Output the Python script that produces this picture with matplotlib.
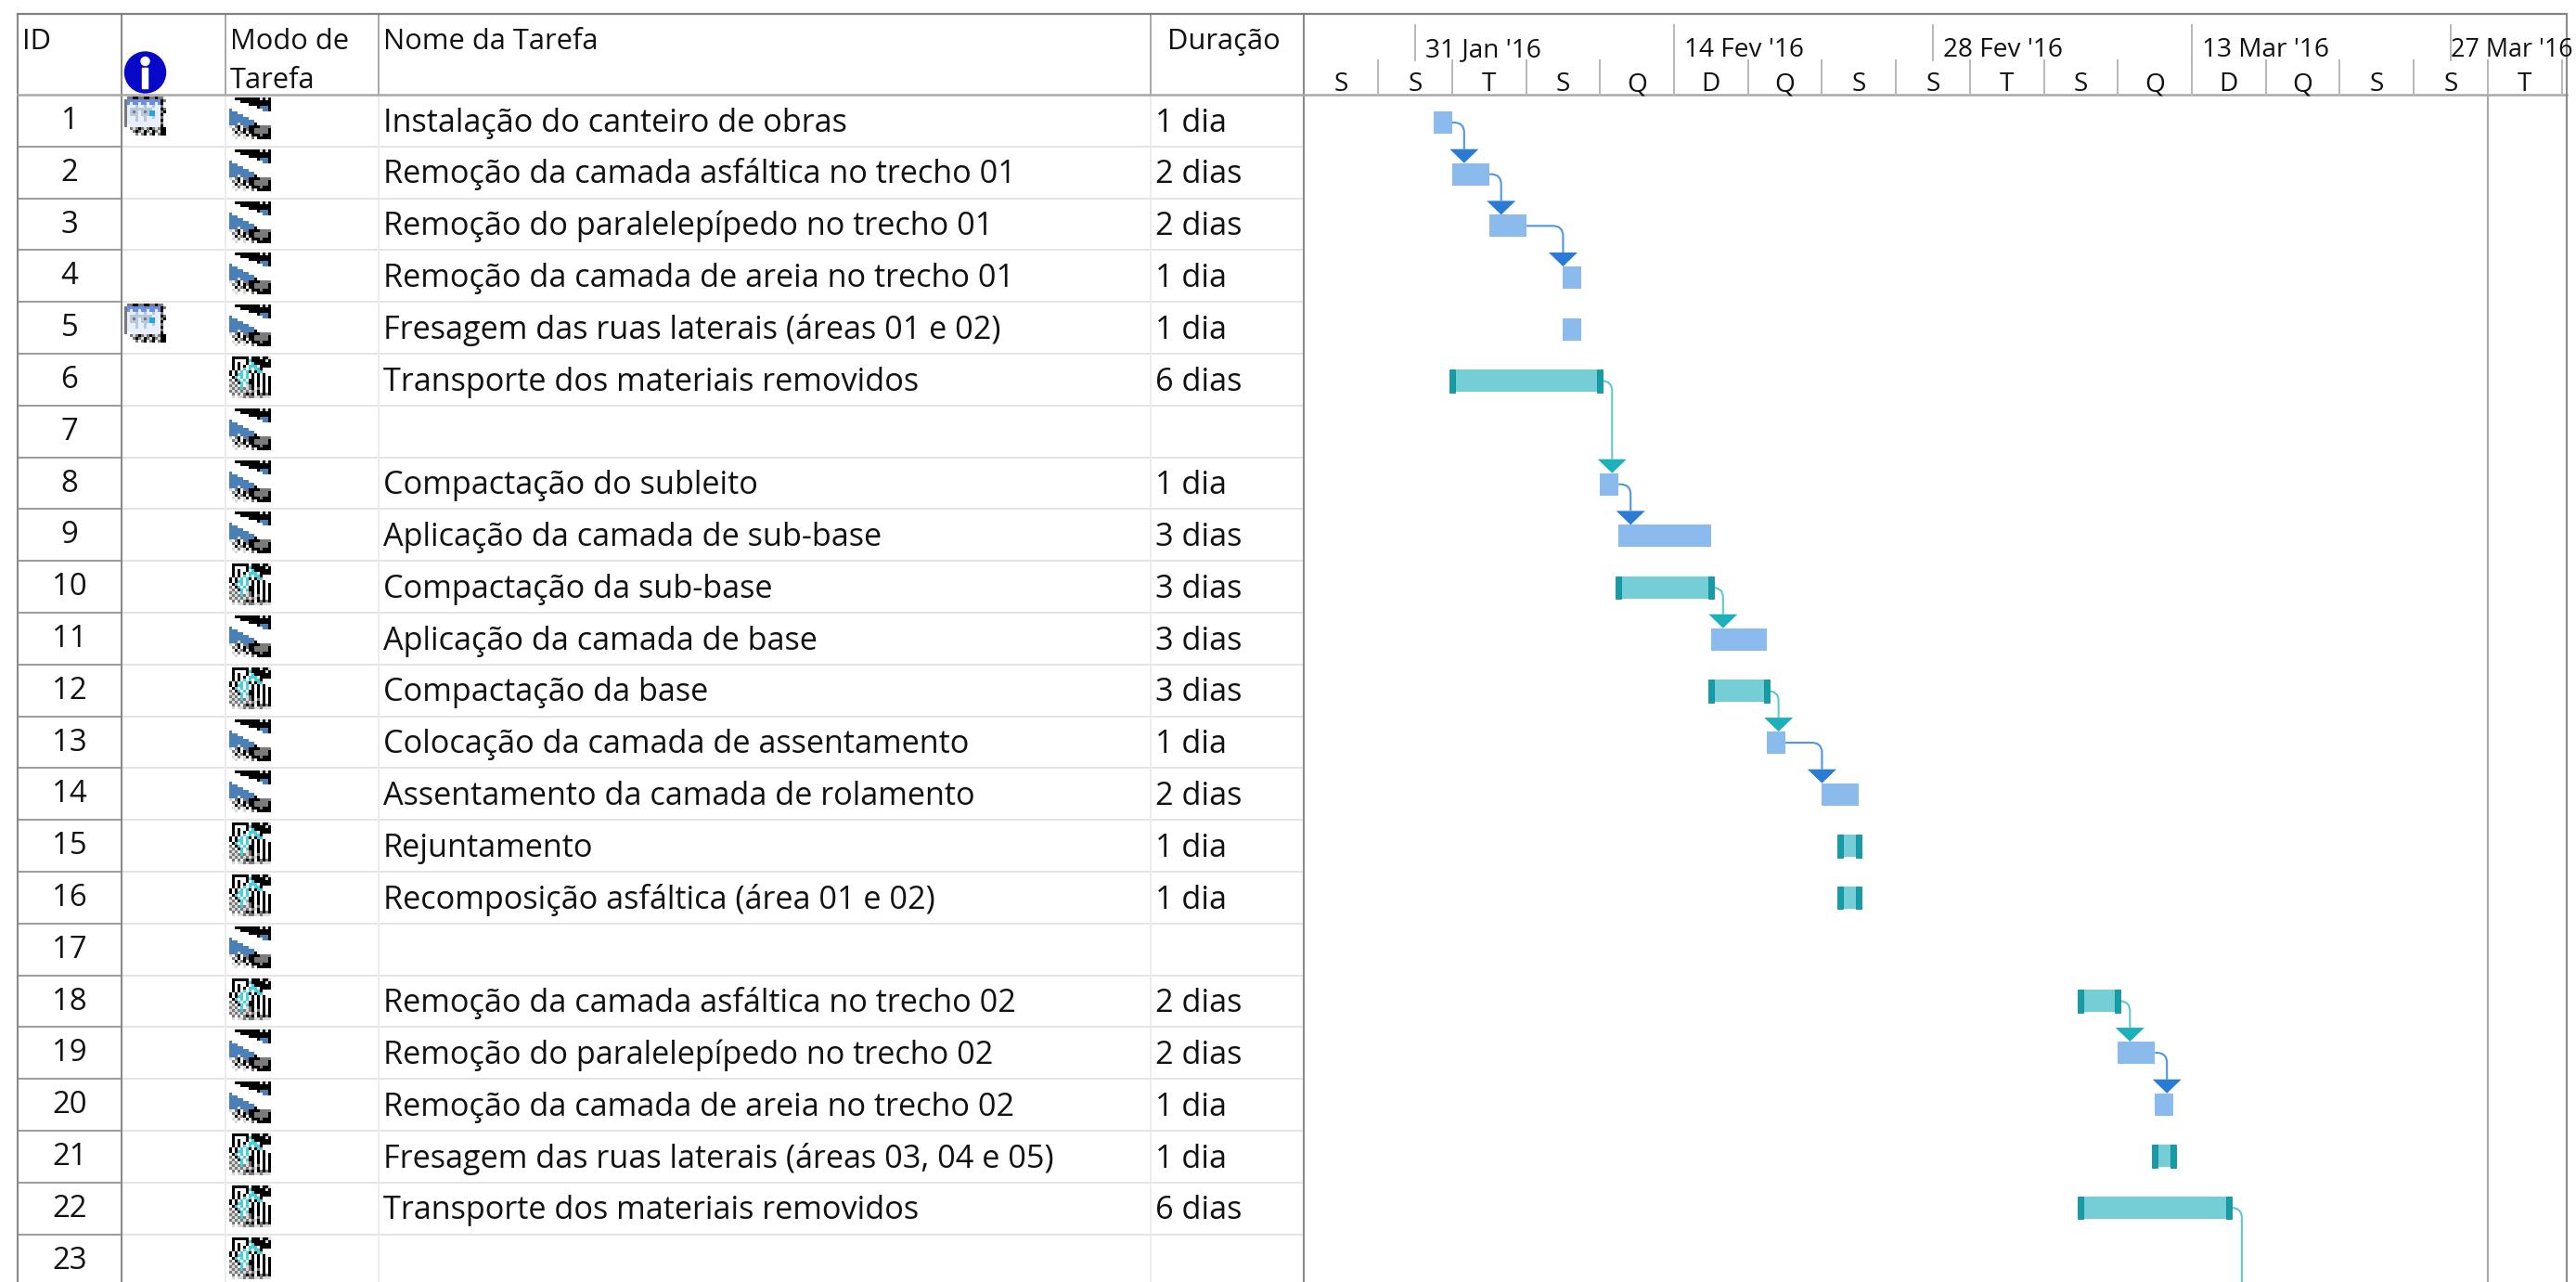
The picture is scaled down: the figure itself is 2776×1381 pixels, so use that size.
import numpy as np
import matplotlib
matplotlib.use("Agg")
import matplotlib.pyplot as plt
import matplotlib.dates as mdates
from matplotlib.path import Path
from matplotlib.patches import PathPatch, Polygon, Circle, Rectangle
from matplotlib.colors import to_rgb
from matplotlib.transforms import blended_transform_factory

plt.rcParams['font.family'] = ['Open Sans', 'DejaVu Sans']

# ---- data
ids = list(range(1, 24))
names = ["Instalação do canteiro de obras", "Remoção da camada asfáltica no trecho 01",
         "Remoção do paralelepípedo no trecho 01", "Remoção da camada de areia no trecho 01",
         "Fresagem das ruas laterais (áreas 01 e 02)", "Transporte dos materiais removidos", "",
         "Compactação do subleito", "Aplicação da camada de sub-base", "Compactação da sub-base",
         "Aplicação da camada de base", "Compactação da base", "Colocação da camada de assentamento",
         "Assentamento da camada de rolamento", "Rejuntamento", "Recomposição asfáltica (área 01 e 02)", "",
         "Remoção da camada asfáltica no trecho 02", "Remoção do paralelepípedo no trecho 02",
         "Remoção da camada de areia no trecho 02", "Fresagem das ruas laterais (áreas 03, 04 e 05)",
         "Transporte dos materiais removidos", ""]
durations = ["1 dia", "2 dias", "2 dias", "1 dia", "1 dia", "6 dias", "", "1 dia", "3 dias", "3 dias",
             "3 dias", "3 dias", "1 dia", "2 dias", "1 dia", "1 dia", "", "2 dias", "2 dias", "1 dia",
             "1 dia", "6 dias", ""]
# a = automatic, m = manual
modes = ["a", "a", "a", "a", "a", "m", "a", "a", "a", "m", "a", "m", "a", "a", "m", "m", "a",
         "m", "a", "a", "m", "m", "m"]
calendar_rows = [1, 5]

starts = ["2016-02-01", "2016-02-02", "2016-02-04", "2016-02-08", "2016-02-08", "2016-02-02", None,
          "2016-02-10", "2016-02-11", "2016-02-11", "2016-02-16", "2016-02-16", "2016-02-19",
          "2016-02-22", "2016-02-23", "2016-02-23", None, "2016-03-07", "2016-03-09", "2016-03-11",
          "2016-03-11", "2016-03-07", None]
ends = ["2016-02-02", "2016-02-04", "2016-02-06", "2016-02-09", "2016-02-09", "2016-02-10", None,
        "2016-02-11", "2016-02-16", "2016-02-16", "2016-02-19", "2016-02-19", "2016-02-20",
        "2016-02-24", "2016-02-24", "2016-02-24", None, "2016-03-09", "2016-03-11", "2016-03-12",
        "2016-03-12", "2016-03-15", None]
links = [(1, 2), (2, 3), (3, 4), (6, 8), (8, 9), (10, 11), (12, 13), (13, 14), (18, 19), (19, 20)]
open_link_row = 22

major_dates = ["2016-01-31", "2016-02-14", "2016-02-28", "2016-03-13", "2016-03-27"]
major_labels = ["31 Jan '16", "14 Fev '16", "28 Fev '16", "13 Mar '16", "27 Mar '16"]
minor_dates = ["2016-01-25", "2016-01-29", "2016-02-02", "2016-02-06", "2016-02-10", "2016-02-14",
               "2016-02-18", "2016-02-22", "2016-02-26", "2016-03-01", "2016-03-05", "2016-03-09",
               "2016-03-13", "2016-03-17", "2016-03-21", "2016-03-25", "2016-03-29", "2016-04-02"]
minor_labels = list("SSTSQDQSSTSQDQSST")
status_date = "2016-03-29"

# pixel icons
icon_auto = ["WWKKKKKKKKKLKLK", "WWWWKKKKKKKKKKK", "WWWWWWWKKKKKKKK", "WWWWWWWWWWKBBBK",
             "BWWWWWWWWWWWBBK", "BBBWWWWWWWWWWWW", "BBBBBWWWWWWWWWW", "BBBBBBBWWWWWWWW",
             "BBBBBBBBBWWWWWW", "BBBLBBBBBKWWWWW", "LWGKWGBKKKKGGGG", "WGLKWKGKKGGGGGK",
             "WWKLGKWKKGGGGGK", "WLWGWLKWKKKGKKK", "WWLWWLWWGWKKKKK"]
icon_manual = ["WKKKKKKWKKKLKKL", "WKWWWWKTKKKKKLK", "WKWKWWKWTKKKKKK", "WKWKWKWTTTWKKKK",
               "WKWKWTWTWTTKWWW", "KWKWTWTKWKTTWWW", "KWKTTWTWKWKWKWW", "WKTWTWTWKWKWKWK",
               "GWKTWTWKKWKWKWK", "LGWKTWTKKWKWKWK", "GLGWTWLGKWKWKWK", "LGLGTGLGKWGWKWK",
               "GLGLGLGLGLKWKWK", "WGWGWGKGKWKGKGK", "WLWLLGLGGLLGLLL"]
icon_cal = ["WGGKKGGKKGGKGGW", "ABBBBBBBBBBBBKG", "ABCBBCBBCBBCBKW", "ACCCDCCDCCDCCGW",
            "ACDDDDDDDDCCCKG", "ACDGDCDGDTTCCGK", "ACDDDCDDDTTCCKW", "ACCCDCCDCCDCCGW",
            "ACCCDCCDCCCCCKW", "ACCCCCCCCCCCCGW", "AWCCCCCCCCCCCKW", "WWGLGKGLGKGLGKK",
            "WWWGKGLKGLKGLKK", "WWWWGWGKWGKWGKK", "WWWWWWWWWWWWWWW"]
icon_colors = {"W": "#ffffff", "K": "#000000", "L": "#d8d8d8", "G": "#7a7a7a", "B": "#4a7fb8",
               "T": "#45d0dc", "A": "#7a7a7a", "C": "#e8eefc", "D": "#b8c8dc"}
cal_colors = dict(icon_colors, B="#6a8fe6", T="#20a8e0")

W, H = 2776, 1381
BLUE, BLUE_HEAD, BLUE_LINK = "#8bbbed", "#2a7bd6", "#4f97e2"
TEAL, TEAL_CAP, TEAL_HEAD, TEAL_LINK = "#75cdd5", "#169ca6", "#1cb0bd", "#5cc8d2"
DARK, MID, LIGHT = "#8a8a8a", "#a8a8a8", "#e4e4e4"
TXT = "#111111"
FS = 24.7
HEAD_FS = 22.2
SCALE_FS = 20.2

fig = plt.figure(figsize=(W / 100, H / 100), dpi=100)
ax = fig.add_axes([0, 0, 1, 1])
ax.set_xlim(0, W)
ax.set_ylim(H, 0)
ax.axis("off")


def icon(grid, x, y, colors):
    img = np.array([[to_rgb(colors[c]) for c in line] for line in grid])
    ax.imshow(img, extent=(x, x + 45, y + 45, y), interpolation="nearest", aspect="auto", zorder=3)


# ---- table
top, head, row_h = 15, 102, 55.8
col_x = [19, 131, 243, 408, 1240, 1405]
row_tops = [head + row_h * i for i in range(len(ids) + 1)]

for i in range(1, len(ids) + 1):
    y = row_tops[i]
    ax.plot([131, 1405], [y, y], color=LIGHT, lw=1.4, zorder=1)
    ax.plot([19, 131], [y, y], color=DARK, lw=1.2, zorder=2)
for x in col_x[2:5]:
    ax.plot([x, x], [head, H], color="#ececec", lw=1.4, zorder=1)
    ax.plot([x, x], [top, head], color=MID, lw=1.4, zorder=2)
for x in (col_x[0], col_x[1], col_x[5]):
    ax.plot([x, x], [top, H], color=DARK, lw=1.5, zorder=2)
ax.plot([19, 2766], [top, top], color="#808080", lw=1.6, zorder=2)
ax.plot([19, 2766], [head, head], color=MID, lw=1.8, zorder=2)
ax.plot([2766, 2766], [top, H], color=DARK, lw=1.5, zorder=2)

ax.text(24, 53, "ID", fontsize=HEAD_FS, color=TXT)
ax.text(248, 53, "Modo de", fontsize=HEAD_FS, color=TXT)
ax.text(248, 95, "Tarefa", fontsize=HEAD_FS, color=TXT)
ax.text(413, 53, "Nome da Tarefa", fontsize=HEAD_FS, color=TXT)
ax.text(1319, 53, "Duração", fontsize=HEAD_FS, color=TXT, ha="center")

ax.add_patch(Circle((156.5, 78), 22, color="#0808c8", zorder=3))
ax.add_patch(Rectangle((153.5, 73), 6, 22, color="white", zorder=4))
ax.add_patch(Circle((156.5, 66), 4.5, color="white", zorder=4))

for i, rid in enumerate(ids):
    rt = row_tops[i]
    ax.text(75, rt + 37, str(rid), fontsize=FS - 1, color=TXT, ha="center")
    ax.text(413, rt + 39.5, names[i], fontsize=FS, color=TXT)
    ax.text(1245, rt + 39.5, durations[i], fontsize=FS, color=TXT)
    icon(icon_auto if modes[i] == "a" else icon_manual, 247, rt + 3, icon_colors)
    if rid in calendar_rows:
        icon(icon_cal, 134, rt + 2, cal_colors)

ax.set_xlim(0, W)
ax.set_ylim(H, 0)

# ---- gantt pane: x in dates, y in rows
ax2 = fig.add_axes([1405 / W, 0, (2766 - 1405) / W, (H - 102) / H])
ref = mdates.datestr2num("2016-02-14")
px_day = 19.93
ax2.set_xlim(ref + (1405 - 1804) / px_day, ref + (2766 - 1804) / px_day)
row_px = 55.67
ax2.set_ylim(1 + (H - 132) / row_px, 1 + (102 - 132) / row_px)
ax2.axis("off")
ax2.patch.set_alpha(0)

bar_h = 24 / row_px
cap = 6 / px_day
s = [mdates.datestr2num(d) if d else None for d in starts]
e = [mdates.datestr2num(d) if d else None for d in ends]

for i, rid in enumerate(ids):
    if s[i] is None:
        continue
    if modes[i] == "a":
        ax2.barh(rid, e[i] - s[i], left=s[i], height=bar_h, color=BLUE, zorder=2)
    else:
        ax2.barh(rid, e[i] - s[i], left=s[i], height=bar_h, color=TEAL, zorder=2)
        for d in (s[i], e[i]):
            ax2.barh(rid, cap, left=d - cap / 2, height=bar_h * 1.03, color=TEAL_CAP,
                     edgecolor="#0f8f99", linewidth=0.6, zorder=3)


def link(x0, y0, x1, y1, color):
    rx, ry = 11 / px_day, 11 / row_px
    verts = [(x0, y0), (x1 - rx, y0), (x1, y0), (x1, y0 + ry), (x1, y1)]
    codes = [Path.MOVETO, Path.LINETO, Path.CURVE3, Path.CURVE3, Path.LINETO]
    ax2.add_patch(PathPatch(Path(verts, codes), fill=False, edgecolor=color, lw=1.5, zorder=1))


offset = 13 / px_day
head_w, head_h = 15.5 / px_day, 15 / row_px
for a, b in links:
    kind = modes[a - 1]
    x = max(e[a - 1] + offset, s[b - 1])
    tip = b - bar_h / 2
    link(e[a - 1] + (3 / px_day if kind == "m" else 0), a, x, tip - head_h, BLUE_LINK if kind == "a" else TEAL_LINK)
    ax2.add_patch(Polygon([(x - head_w, tip - head_h), (x + head_w, tip - head_h), (x, tip)],
                          closed=True, color=BLUE_HEAD if kind == "a" else TEAL_HEAD, lw=0, zorder=4))
link(e[open_link_row - 1] + 3 / px_day, open_link_row, e[open_link_row - 1] + offset + 1 / px_day, 30, TEAL_LINK)

ax2.axvline(mdates.datestr2num(status_date), color=MID, lw=1.5, zorder=1)

# ---- timescale header
hdr = blended_transform_factory(ax2.transData, ax.transData)
for d, lab in zip(major_dates, major_labels):
    x = mdates.datestr2num(d)
    ax.plot([x, x], [27, 65], color="#b8b8b8", lw=1.4, transform=hdr, clip_on=False, zorder=2)
    # the last label starts right on its tick, otherwise it runs off the window
    last = lab == major_labels[-1]
    ax.text(x + (0 if last else 11) / px_day, 61, lab, fontsize=19.4 if last else SCALE_FS, color=TXT,
            transform=hdr, clip_on=False, zorder=5)
for i, d in enumerate(minor_dates):
    x = mdates.datestr2num(d)
    if i > 0:
        ax.plot([x, x], [65, 102], color="#b8b8b8", lw=1.4, transform=hdr, clip_on=False, zorder=2)
    if i < len(minor_labels):
        ax.text(x + 2, 98, minor_labels[i], fontsize=SCALE_FS, color=TXT, ha="center",
                transform=hdr, clip_on=False, zorder=5)

fig.savefig("out.png", dpi=100)
